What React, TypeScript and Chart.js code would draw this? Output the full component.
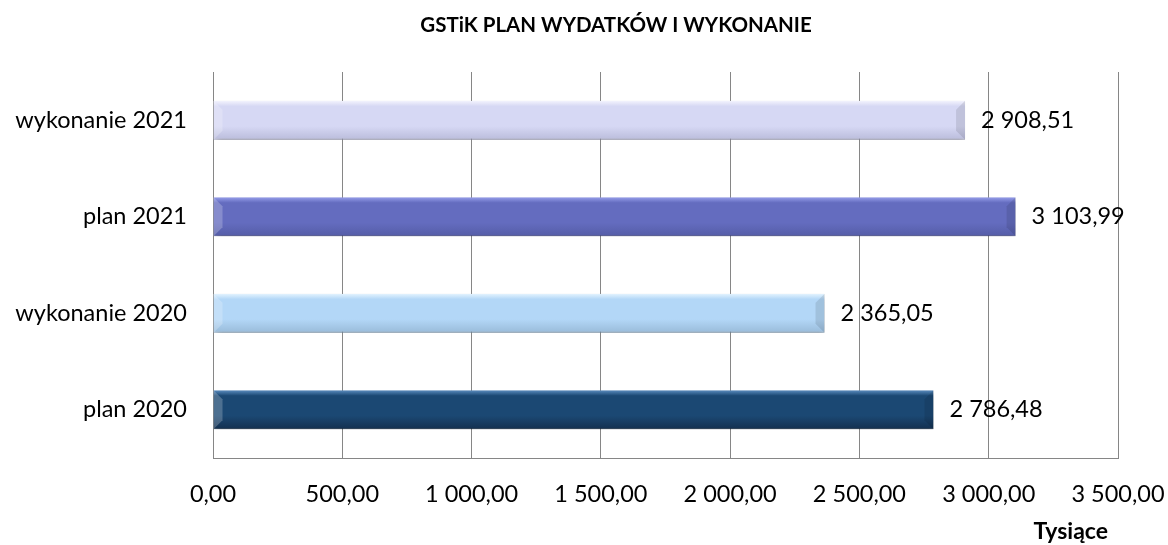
import React, { useEffect, useRef } from "react";
import { Chart, registerables } from "chart.js";

Chart.register(...registerables);

const categories = ["wykonanie 2021", "plan 2021", "wykonanie 2020", "plan 2020"];
const values = [2908.51, 3103.99, 2365.05, 2786.48];
const baseColors = ["#D6D8F4", "#646CBF", "#B3D7F7", "#1B4873"];
const topColors = ["#F6F6FE", "#9AA2EE", "#E8F6FF", "#6092C6"];
const bottomColors = ["#B9BBDA", "#545CA6", "#98BAD8", "#132F4E"];
const xTicks = [0, 500, 1000, 1500, 2000, 2500, 3000, 3500];
const titleText = "GSTiK PLAN WYDATKÓW I WYKONANIE";
const unitText = "Tysiące";

const FONT = "Lato, 'Open Sans', sans-serif";
const LABEL_SIZE = 23.5;

function fmt(v: number): string {
  const [i, d] = v.toFixed(2).split(".");
  const withSep = i.replace(/\B(?=(\d{3})+(?!\d))/g, " ");
  return withSep + "," + d;
}

const decoPlugin = {
  id: "deco",
  beforeDatasetsDraw(chart: any) {
    const ctx = chart.ctx;
    ctx.save();
    ctx.shadowColor = "rgba(0,0,0,0.35)";
    ctx.shadowBlur = 7;
    ctx.shadowOffsetX = 1;
    ctx.shadowOffsetY = 3;
  },
  afterDatasetsDraw(chart: any) {
    const ctx = chart.ctx;
    ctx.restore();
    const meta = chart.getDatasetMeta(0);
    ctx.save();
    meta.data.forEach((el: any, i: number) => {
      const h = el.height;
      const top = el.y - h / 2;
      const bot = el.y + h / 2;
      const left = el.base;
      const right = el.x;
      const b = 9;
      ctx.fillStyle = "rgba(0,0,0,0.10)";
      ctx.beginPath();
      ctx.moveTo(right, top);
      ctx.lineTo(right, bot);
      ctx.lineTo(right - b, bot - b);
      ctx.lineTo(right - b, top + b);
      ctx.closePath();
      ctx.fill();
      ctx.fillStyle = "rgba(255,255,255,0.22)";
      ctx.beginPath();
      ctx.moveTo(left, top);
      ctx.lineTo(left, bot);
      ctx.lineTo(left + b, bot - b);
      ctx.lineTo(left + b, top + b);
      ctx.closePath();
      ctx.fill();
      ctx.fillStyle = "#000";
      ctx.font = LABEL_SIZE + "px " + FONT;
      ctx.textAlign = "left";
      ctx.textBaseline = "middle";
      ctx.fillText(fmt(values[i]), right + 16, el.y);
    });
    ctx.restore();
  },
  afterDraw(chart: any) {
    const ctx = chart.ctx;
    ctx.save();
    ctx.fillStyle = "#000";
    ctx.font = "bold 20.5px " + FONT;
    ctx.textAlign = "center";
    ctx.textBaseline = "middle";
    ctx.fillText(titleText, 616, 25);
    ctx.font = "bold 23px " + FONT;
    ctx.textAlign = "right";
    ctx.fillText(unitText, 1108, 532);
    ctx.restore();
  },
};

export default function App() {
  const ref = useRef<HTMLCanvasElement | null>(null);
  useEffect(() => {
    document.body.style.margin = "0";
    const canvas = ref.current!;
    const chart = new Chart(canvas, {
      type: "bar",
      data: {
        labels: categories,
        datasets: [
          {
            data: values,
            backgroundColor: (c: any) => {
              const ch = c.chart;
              const i = c.dataIndex;
              if (i === undefined || i === null) return baseColors[0];
              const y = ch.scales?.y;
              const cy = y ? y.getPixelForValue(i) : NaN;
              if (!Number.isFinite(cy) || !ch.chartArea) return baseColors[i];
              const half = 20;
              const g = ch.ctx.createLinearGradient(0, cy - half, 0, cy + half);
              g.addColorStop(0, topColors[i]);
              g.addColorStop(0.15, baseColors[i]);
              g.addColorStop(0.65, baseColors[i]);
              g.addColorStop(1, bottomColors[i]);
              return g;
            },
            borderColor: bottomColors,
            borderWidth: { bottom: 1, top: 0, left: 0, right: 0 },
            borderSkipped: false,
            barPercentage: 0.404,
            categoryPercentage: 1,
          },
        ],
      },
      options: {
        indexAxis: "y",
        animation: false,
        responsive: false,
        maintainAspectRatio: false,
        layout: { padding: { left: 0, right: 50, top: 72, bottom: 0 } },
        plugins: {
          legend: { display: false },
          tooltip: { enabled: false },
          title: { display: false },
        },
        scales: {
          x: {
            min: 0,
            max: 3500,
            afterBuildTicks: (s: any) => {
              s.ticks = xTicks.map((v) => ({ value: v }));
            },
            afterFit: (s: any) => {
              s.height = 87;
              s.paddingLeft = 0;
              s.paddingRight = 0;
            },
            ticks: {
              color: "#000",
              font: { family: FONT, size: LABEL_SIZE },
              padding: 22,
              maxRotation: 0,
              callback: (v: any) => fmt(Number(v)),
            },
            grid: { color: "#868686", lineWidth: 1, drawTicks: false },
            border: { color: "#868686", width: 1 },
          },
          y: {
            afterFit: (s: any) => {
              s.width = 213;
              s.paddingTop = 0;
              s.paddingBottom = 0;
            },
            ticks: {
              color: "#000",
              font: { family: FONT, size: LABEL_SIZE },
              padding: 26,
            },
            grid: { display: false, drawTicks: false },
            border: { color: "#868686", width: 1 },
          },
        },
      },
      plugins: [decoPlugin],
    });
    return () => chart.destroy();
  }, []);
  return (
    <div style={{ position: "fixed", left: 0, top: 0, width: 1168, height: 545, background: "#fff" }}>
      <canvas ref={ref} width={1168} height={545} style={{ width: 1168, height: 545 }} />
    </div>
  );
}
